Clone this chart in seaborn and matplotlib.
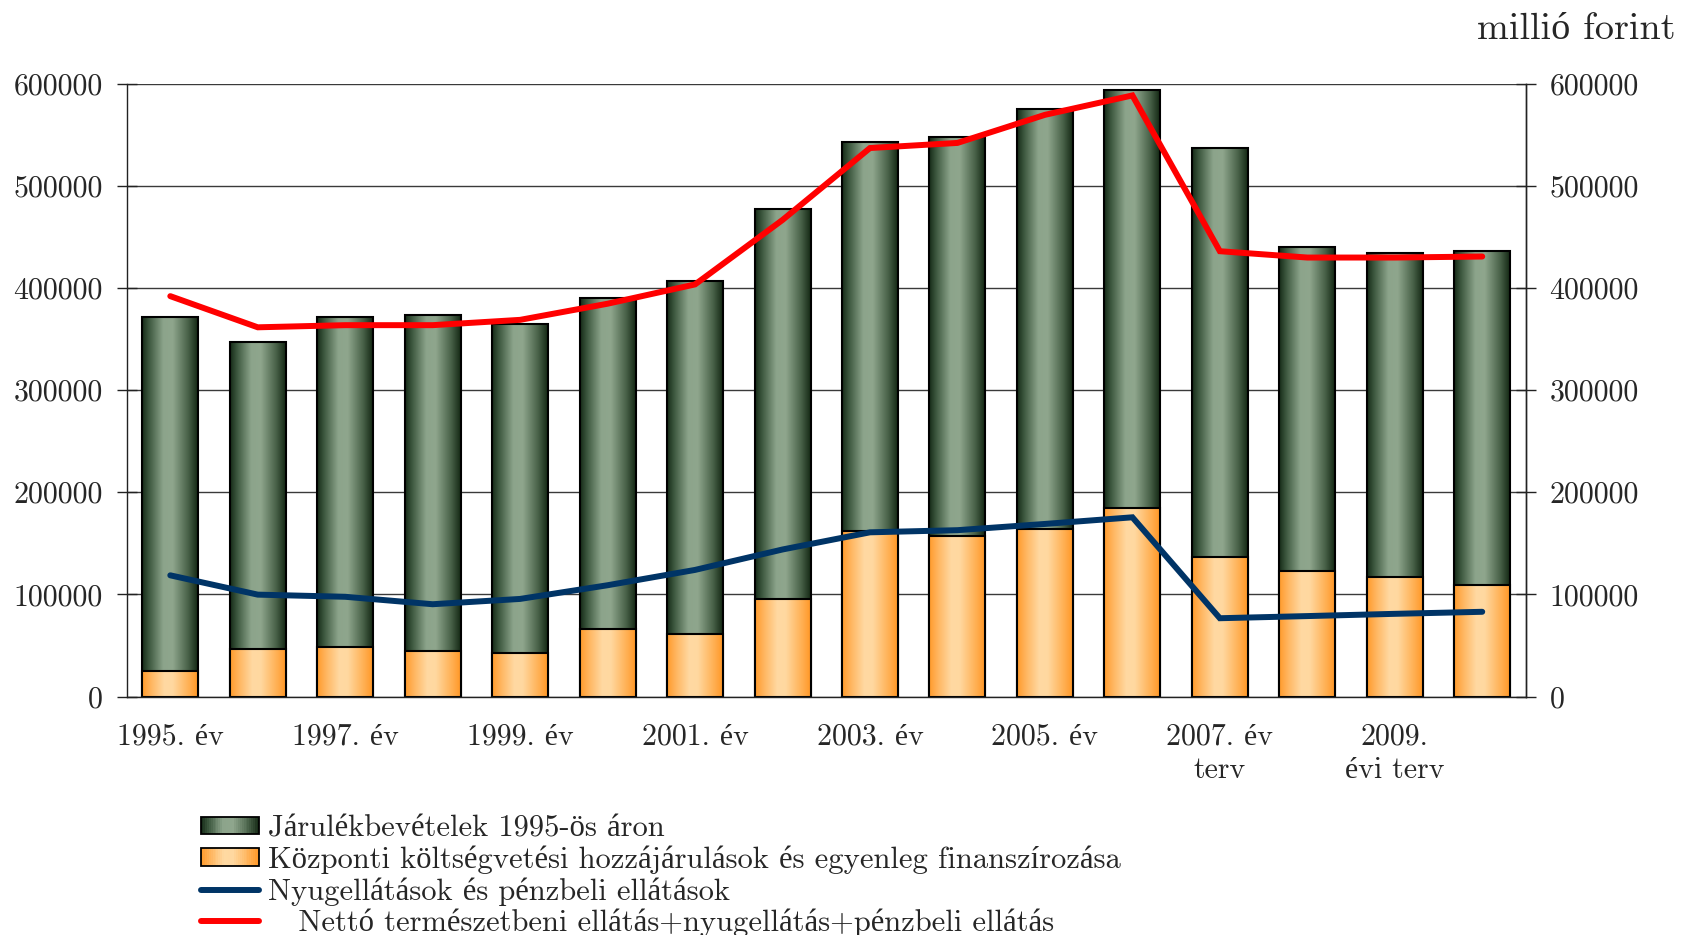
import numpy as np
import matplotlib
matplotlib.use("Agg")
import matplotlib.pyplot as plt
import seaborn as sns
from matplotlib.colors import LinearSegmentedColormap
from matplotlib.patches import Rectangle
from matplotlib.lines import Line2D
from matplotlib.legend_handler import HandlerBase

# ---------------- data ----------------
years = ["1995", "1996", "1997", "1998", "1999", "2000", "2001", "2002",
         "2003", "2004", "2005", "2006", "2007", "2008", "2009", "2010"]
tick_labels = ["1995. év", "", "1997. év", "", "1999. év", "", "2001. év", "",
               "2003. év", "", "2005. év", "", "2007. év\nterv", "", "2009.\névi terv", ""]
jarulek = [347000, 300000, 323000, 329000, 322000, 324000, 346000, 381000,
           381000, 391000, 411000, 409000, 400000, 317000, 317000, 327000]
kozponti = [25000, 47000, 49000, 45000, 43000, 66000, 61000, 96000,
            162000, 157000, 164000, 185000, 137000, 123000, 117000, 109000]
nyugellatas = [118700, 99800, 97700, 90400, 95600, 109000, 124000, 144000,
               160800, 162900, 169000, 175500, 76700, 78800, 81000, 83000]
netto = [392000, 361500, 363600, 363600, 368800, 384600, 403500, 466600,
         537000, 542000, 569500, 588500, 436000, 429800, 429800, 430800]
y_ticks = [0, 100000, 200000, 300000, 400000, 500000, 600000]
y_tick_labels = ["0", "100000", "200000", "300000", "400000", "500000", "600000"]
legend_labels = ["Járulékbevételek 1995-ös áron",
                 "Központi költségvetési hozzájárulások és egyenleg finanszírozása",
                 "Nyugellátások és pénzbeli ellátások",
                 "   Nettó természetbeni ellátás+nyugellátás+pénzbeli ellátás"]
unit_label = "millió forint"

# ---------------- style ----------------
sns.set_style("white")
plt.rcParams["font.family"] = ["cmr10", "Liberation Serif"]
plt.rcParams["axes.unicode_minus"] = False
FS = 21.5
FS_LEG = 22

green_cmap = LinearSegmentedColormap.from_list(
    "g", [(0.0, "#152a17"), (0.12, "#3b563d"), (0.38, "#8ca48b"),
          (0.55, "#8fa68d"), (0.82, "#4a634a"), (1.0, "#142814")])
orange_cmap = LinearSegmentedColormap.from_list(
    "o", [(0.0, "#ff9a2a"), (0.15, "#ffb45c"), (0.4, "#ffd9a2"),
          (0.55, "#ffd8a0"), (0.85, "#ffae50"), (1.0, "#ff9726")])

fig = plt.figure(figsize=(16.83, 9.35), dpi=100)
ax = fig.add_axes([0.0752, 0.255, 0.9067 - 0.0752, 0.9105 - 0.255])

totals = [a + b for a, b in zip(jarulek, kozponti)]
pos = np.arange(len(years))

n0 = len(ax.patches)
sns.barplot(x=years, y=totals, ax=ax, color=green_cmap(0.45), width=0.64,
            saturation=1, errorbar=None, edgecolor="black", linewidth=1.5)
green_patches = ax.patches[n0:]
n1 = len(ax.patches)
sns.barplot(x=years, y=kozponti, ax=ax, color=orange_cmap(0.45), width=0.64,
            saturation=1, errorbar=None, edgecolor="black", linewidth=1.5)
orange_patches = ax.patches[n1:]

grad = np.linspace(0, 1, 256).reshape(1, -1)
for patches, cmap, z in ((green_patches, green_cmap, 1.0), (orange_patches, orange_cmap, 2.0)):
    for p in patches:
        x0, y0, w, h = p.get_x(), p.get_y(), p.get_width(), p.get_height()
        im = ax.imshow(grad, extent=[x0, x0 + w, y0, y0 + h], aspect="auto",
                       cmap=cmap, origin="lower", zorder=z, interpolation="bilinear")
        im.set_clip_path(p)
        p.set_facecolor("none")
        p.set_zorder(z + 0.5)

sns.lineplot(x=pos, y=nyugellatas, ax=ax, color="#003466", linewidth=4.3,
             legend=False, zorder=5, solid_capstyle="round", solid_joinstyle="miter")
sns.lineplot(x=pos, y=netto, ax=ax, color="#ff0000", linewidth=4.3,
             legend=False, zorder=6, solid_capstyle="round", solid_joinstyle="miter")

ax.set_xlim(-0.5, len(years) - 0.5)
ax.set_ylim(0, 600000)
ax.set_aspect("auto")
ax.set_xlabel("")
ax.set_ylabel("")

# grid
ax.set_yticks(y_ticks)
ax.set_yticklabels(y_tick_labels, fontsize=FS)
ax.yaxis.grid(True, color="#3a3a3a", linewidth=1.0)
ax.set_axisbelow(True)

# x ticks: marks at boundaries, labels at bar centres
ax.set_xticks(np.arange(-0.5, len(years), 1.0))
ax.set_xticklabels([])
ax.set_xticks(pos, minor=True)
ax.set_xticklabels(tick_labels, minor=True, fontsize=FS, linespacing=1.3)
ax.tick_params(axis="x", which="major", direction="inout", length=11, width=1, color="#222222")
ax.tick_params(axis="x", which="minor", length=0, pad=19)
ax.tick_params(axis="y", direction="inout", length=14, width=1, pad=10, color="#222222", left=True)

ax.spines["top"].set_visible(False)
for s in ("left", "right", "bottom"):
    ax.spines[s].set_visible(True)
    ax.spines[s].set_color("#222222")
    ax.spines[s].set_linewidth(1.0)

ax2 = ax.twinx()
ax2.set_ylim(0, 600000)
ax2.set_yticks(y_ticks)
ax2.set_yticklabels(y_tick_labels, fontsize=FS)
ax2.tick_params(axis="y", direction="inout", length=14, width=1, pad=10, color="#222222", right=True)
ax2.grid(False)
for s in ("top", "left", "bottom"):
    ax2.spines[s].set_visible(False)
ax2.spines["right"].set_color("#222222")
ax2.spines["right"].set_linewidth(1.0)

fig.text(0.9955, 1 - 29 / 935, unit_label, ha="right", va="center", fontsize=27.5)


class GradHandler(HandlerBase):
    def __init__(self, cmap):
        super().__init__()
        self.cmap = cmap

    def create_artists(self, legend, orig_handle, xdescent, ydescent, width, height, fontsize, trans):
        n = 30
        arts = []
        for i in range(n):
            arts.append(Rectangle((-xdescent + width * i / n, -ydescent), width / n * 1.05, height,
                                  facecolor=self.cmap((i + 0.5) / n), edgecolor="none", transform=trans))
        arts.append(Rectangle((-xdescent, -ydescent), width, height, facecolor="none",
                              edgecolor="black", linewidth=1.3, transform=trans))
        return arts


h_green = Rectangle((0, 0), 1, 1)
h_orange = Rectangle((0, 0), 1, 1, label="o")
h_blue = Line2D([], [], color="#003466", linewidth=4.3, solid_capstyle="round")
h_red = Line2D([], [], color="#ff0000", linewidth=4.3, solid_capstyle="round")
fig.legend([h_green, h_orange, h_blue, h_red], legend_labels,
           handler_map={h_green: GradHandler(green_cmap), h_orange: GradHandler(orange_cmap)},
           loc="upper left", bbox_to_anchor=(201 / 1683, 1 - 815 / 935),
           frameon=False, fontsize=FS_LEG, borderpad=0, borderaxespad=0,
           labelspacing=0.1, handlelength=1.9, handleheight=0.5, handletextpad=0.3)

fig.savefig("out.png", dpi=100)
